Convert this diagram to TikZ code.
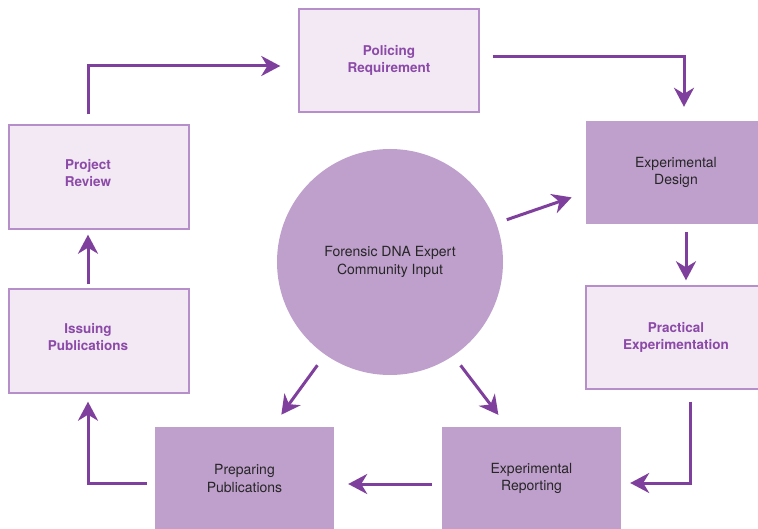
\documentclass[tikz,border=0pt]{standalone}
\usepackage{fontspec}
\usepackage{xcolor}
\usepackage{tikz}
\usetikzlibrary{arrows.meta}
\newfontfamily\boxfont{TeX Gyre Heros}
\definecolor{paleplum}{HTML}{F2E9F4}
\definecolor{edgeplum}{HTML}{B68ECA}
\definecolor{inkplum}{HTML}{8C4AA8}
\definecolor{midplum}{HTML}{BF9FCC}
\definecolor{arrowplum}{HTML}{7F3F9C}

\begin{document}
\begin{tikzpicture}[inner sep=0pt,
  lightbox/.style={minimum height=103pt, minimum width=180pt, fill=paleplum, draw=edgeplum, line width=1.4pt, align=center, text=inkplum, font=\boxfont\bfseries\fontsize{13.5}{17}\selectfont, shape=rectangle},
  darkbox/.style={minimum height=103pt, minimum width=180pt, fill=midplum, align=center, text=black!85, font=\boxfont\fontsize{14}{17.5}\selectfont, shape=rectangle},
  sidetext/.style={align=center, text=inkplum, font=\boxfont\bfseries\fontsize{13.5}{17}\selectfont, xshift=-11pt, yshift=3.5pt},
  flow/.style={-{Stealth[length=19pt,width=20pt,inset=6pt]}, line width=3pt, draw=arrowplum}]
\path [use as bounding box, fill=white] (0pt,0pt) rectangle (758pt,-529pt);

\node (n0) [lightbox, at={(389pt,-60.5pt)}] {Policing\\Requirement};
\node (n1) [darkbox, at={(676pt,-172.5pt)}] {Experimental\\Design};
\node (n2) [lightbox, at={(676pt,-337.5pt)}] {Practical\\Experimentation};
\node (n3) [darkbox, minimum width=179pt, at={(531.5pt,-478.5pt)}] {Experimental\\Reporting};
\node (n4) [darkbox, minimum width=179pt, at={(244.5pt,-478.5pt)}] {Preparing\\Publications};
\node (n5) [lightbox, minimum height=104pt, at={(99pt,-341pt)}, label={[sidetext]center:{Issuing\\Publications}}] {};
\node (n6) [lightbox, minimum height=104pt, at={(99pt,-177pt)}, label={[sidetext]center:{Project\\Review}}] {};
\node (n7) [shape=circle, minimum size=226pt, fill=midplum, align=center, text=black!85, font=\boxfont\fontsize{14}{18}\selectfont, at={(390pt,-262pt)}] {Forensic DNA Expert\\Community Input};


\path [flow, shorten <=10pt, shorten >=18pt] ([xshift=-11pt]n6.north) |- ([yshift=-5.5pt]n0.west);


\path [flow, shorten <=13pt, shorten >=14pt] ([yshift=3.5pt]n0.east) -| ([xshift=8pt]n1.north);


\path [flow, shorten <=8pt, shorten >=5pt] ([xshift=10pt]n1.south) -- ([xshift=10pt]n2.north);


\path [flow, shorten <=12pt, shorten >=9pt] ([xshift=14pt]n2.south) |- ([yshift=-4.5pt]n3.east);


\path [flow, shorten <=10pt, shorten >=14pt] ([yshift=-5.5pt]n3.west) -- ([yshift=-5.5pt]n4.east);


\path [flow, shorten <=8pt, shorten >=8pt] ([yshift=-4.5pt]n4.west) -| ([xshift=-11pt]n5.south);


\path [flow, shorten <=4pt, shorten >=5pt] ([xshift=-11pt]n5.north) -- ([xshift=-11pt]n6.south);


\path [flow, shorten <=11pt, shorten >=15pt] (n7.20) -- ([yshift=-20pt]n1.west);


\path [flow, shorten <=13pt, shorten >=15pt] (n7.235) -- ([xshift=28pt]n4.north);


\path [flow, shorten <=12pt, shorten >=15pt] (n7.-56) -- ([xshift=-24pt]n3.north);
\end{tikzpicture}
\end{document}
